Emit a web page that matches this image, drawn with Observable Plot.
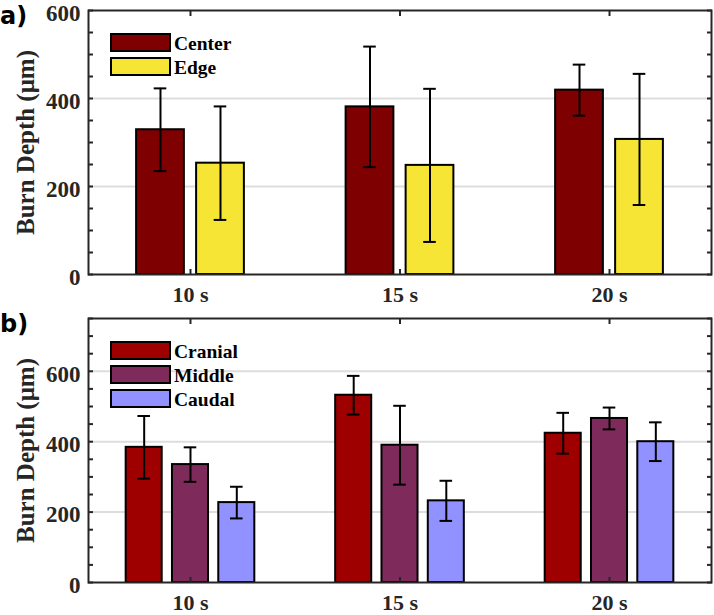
<!DOCTYPE html>
<html><head><meta charset="utf-8">
<script src="https://cdn.jsdelivr.net/npm/d3@7"></script>
<script src="https://cdn.jsdelivr.net/npm/@observablehq/plot@0.6"></script>
<style>
body{margin:0;background:#fff;}
#wrap{position:relative;width:714px;height:615px;overflow:hidden;}
.panel{position:absolute;left:0;}
.tag{position:absolute;left:0;font-family:"DejaVu Sans";font-weight:bold;font-size:24px;line-height:24px;color:#000;}
.sw{position:absolute;box-sizing:border-box;border:2px solid #000;width:61px;height:19px;}
.lt{position:absolute;font-family:"Liberation Serif";font-weight:bold;font-size:19.5px;line-height:19px;color:#000;}
</style></head>
<body>
<div id="wrap">
  <div id="pa" class="panel" style="top:0"></div>
  <div id="pb" class="panel" style="top:310px"></div>
  <div class="tag" style="top:4px">a)</div>
  <div class="tag" style="top:312px">b)</div>
  <div id="lega"></div>
  <div id="legb"></div>
</div>
<script>
// ---- data ----
const categories = ["10 s", "15 s", "20 s"];

const seriesA = ["Center", "Edge"];
const centerMean = [329, 381, 419];
const centerErr  = [94, 137, 58];
const edgeMean   = [253, 248, 307];
const edgeErr    = [129, 174, 149];
const colorsA = ["#7f0000", "#f6e535"];

const seriesB = ["Cranial", "Middle", "Caudal"];
const cranialMean = [384, 532, 424];
const cranialErr  = [89, 55, 58];
const middleMean  = [335, 390, 466];
const middleErr   = [49, 112, 31];
const caudalMean  = [227, 232, 400];
const caudalErr   = [45, 57, 55];
const colorsB = ["#9e0000", "#7e2b5b", "#9191ff"];

const yLabelTicksA = [0, 200, 400, 600];
const yLabelTicksB = [0, 200, 400, 600];
const yMaxA = 600, yMaxB = 750;
const yLabel = "Burn Depth (μm)";

function panel({series, means, errs, colors, yMax, labelTicks, height, marginTop, marginBottom, step, barW, capW}) {
  const n = series.length;
  const rows = series.flatMap((s, si) => categories.map((c, ci) => ({
    series: s, cat: ci, pos: ci + (si - (n - 1) / 2) * step, mean: means[si][ci], err: errs[si][ci]
  })));
  const minor = d3.range(0, yMax + 1, 50);
  const idx = categories.map((c, i) => i);
  const axisColor = "#262626";
  return Plot.plot({
    width: 714, height, marginLeft: 88, marginRight: 3, marginTop, marginBottom,
    x: {domain: [-0.4868, 2.4868], axis: null},
    y: {domain: [0, yMax], axis: null},
    color: {domain: series, range: colors},
    style: {fontFamily: "Liberation Serif", fontWeight: "bold", background: "transparent", overflow: "visible"},
    marks: [
      Plot.gridY(labelTicks.filter(v => v > 0 && v < yMax), {stroke: "#dddddd", strokeWidth: 2, strokeOpacity: 1}),
      Plot.rectY(rows, {x1: d => d.pos - barW / 2, x2: d => d.pos + barW / 2, y: "mean", fill: "series", stroke: "#000", strokeWidth: 2}),
      Plot.ruleX(rows, {x: "pos", y1: d => d.mean - d.err, y2: d => d.mean + d.err, stroke: "#000", strokeWidth: 2}),
      Plot.ruleY(rows, {y: d => d.mean + d.err, x1: d => d.pos - capW / 2, x2: d => d.pos + capW / 2, stroke: "#000", strokeWidth: 2}),
      Plot.ruleY(rows, {y: d => d.mean - d.err, x1: d => d.pos - capW / 2, x2: d => d.pos + capW / 2, stroke: "#000", strokeWidth: 2}),
      Plot.frame({stroke: axisColor, strokeWidth: 2}),
      Plot.axisY(minor, {anchor: "left", tickSize: 5, dx: 5, tickFormat: () => "", label: null, stroke: axisColor, strokeWidth: 2}),
      Plot.axisY(minor, {anchor: "right", tickSize: 5, dx: -5, tickFormat: () => "", label: null, stroke: axisColor, strokeWidth: 2}),
      Plot.axisY(labelTicks, {anchor: "left", tickSize: 0, tickPadding: 8, dy: 3, label: null, fontSize: 23, fill: axisColor}),
      Plot.axisX(idx, {anchor: "bottom", tickSize: 5, dy: -5, tickFormat: () => "", label: null, stroke: axisColor, strokeWidth: 2}),
      Plot.axisX(idx, {anchor: "top", tickSize: 5, dy: 5, tickFormat: () => "", label: null, stroke: axisColor, strokeWidth: 2}),
      Plot.axisX(idx, {anchor: "bottom", tickSize: 0, tickPadding: 12, tickFormat: i => categories[i], label: null, fontSize: 22, fill: axisColor}),
      Plot.text([yLabel], {text: d => d, frameAnchor: "left", textAnchor: "middle", rotate: -90, dx: -63, fontSize: 25, fill: axisColor})
    ]
  });
}

document.getElementById("pa").append(panel({
  series: seriesA, means: [centerMean, edgeMean], errs: [centerErr, edgeErr], colors: colorsA,
  yMax: yMaxA, labelTicks: yLabelTicksA, height: 310, marginTop: 10, marginBottom: 36,
  step: 0.2864, barW: 0.228, capW: 0.06
}));
document.getElementById("pb").append(panel({
  series: seriesB, means: [cranialMean, middleMean, caudalMean], errs: [cranialErr, middleErr, caudalErr], colors: colorsB,
  yMax: yMaxB, labelTicks: yLabelTicksB, height: 305, marginTop: 8, marginBottom: 33,
  step: 0.221, barW: 0.172, capW: 0.06
}));

function legend(el, series, colors, top0, stepPx) {
  series.forEach((s, i) => {
    const t = top0 + i * stepPx;
    const sw = document.createElement("div");
    sw.className = "sw"; sw.style.left = "110px"; sw.style.top = t + "px"; sw.style.background = colors[i];
    const lt = document.createElement("div");
    lt.className = "lt"; lt.style.left = "174px"; lt.style.top = (t + 1) + "px"; lt.textContent = s;
    el.append(sw, lt);
  });
}
legend(document.getElementById("lega"), seriesA, colorsA, 32.5, 24.5);
legend(document.getElementById("legb"), seriesB, colorsB, 340.5, 24.3);
</script>
</body></html>
